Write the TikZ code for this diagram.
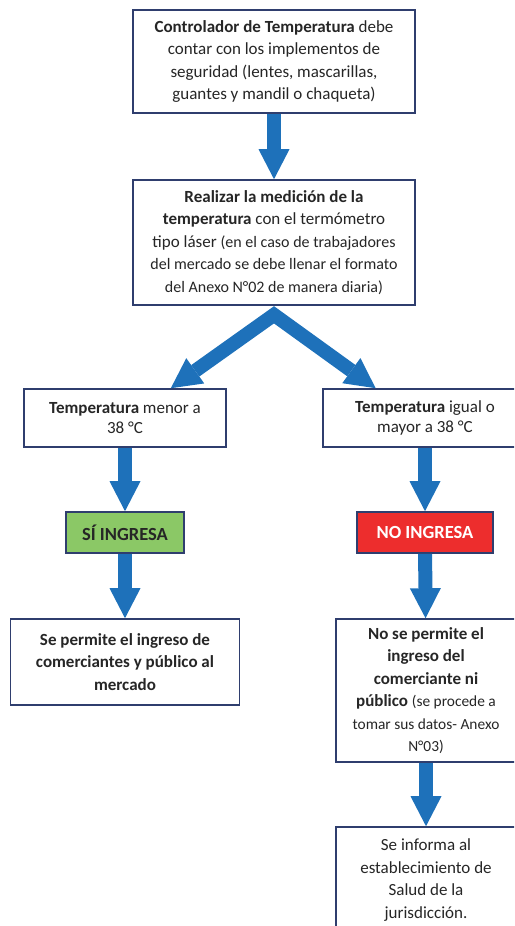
\documentclass[tikz,border=0pt]{standalone}
\usepackage{fontspec}
\setmainfont{Carlito}
\usetikzlibrary{calc}
\usetikzlibrary{arrows.meta}
\definecolor{bordeazul}{RGB}{47,62,110}
\definecolor{flechaazul}{RGB}{30,113,186}
\definecolor{verdesi}{RGB}{139,200,102}
\definecolor{rojono}{RGB}{237,45,45}
\definecolor{texto}{RGB}{38,38,38}
\newcommand{\chico}{\fontsize{16}{22.5}\selectfont}
\newcommand{\menudo}{\fontsize{15.4}{19}\selectfont}
\tikzset{
	align=center,
	caja/.style={
		draw=bordeazul,
		line width=1.6pt,
		fill=white,
		text=texto,
		inner sep=0pt,
		font=\fontsize{17}{22.5}\selectfont,
	},
	rango/.style={
		caja,
		font=\fontsize{17}{20.5}\selectfont,
	},
	siingresa/.style={
		caja,
		fill=verdesi,
		font=\fontsize{18.5}{22}\selectfont\bfseries,
	},
	noingresa/.style={
		caja,
		fill=rojono,
		text=white,
		font=\fontsize{18.5}{22}\selectfont\bfseries,
	},
	flecha/.style={
		draw=flechaazul,
		line width=14pt,
		-{Triangle[length=30pt 0,width=31pt 0,line width=0pt 0]}
	},
	bifurca/.style={
		draw=flechaazul,
		line width=14pt,
		line join=miter,
		{Triangle[length=30pt 0,width=31pt 0,line width=0pt 0]}-{Triangle[length=30pt 0,width=31pt 0,line width=0pt 0]}
	},
}

\begin{document}
\begin{tikzpicture}[x=1pt,y=-1pt]
		\useasboundingbox (0,0) rectangle (514,926);
		\clip (0,0) rectangle (514,926);

		\node[caja, minimum width=282pt, minimum height=103pt] (ctrl) at (274,61.5) {\textbf{Controlador de Temperatura} debe\\ contar con los implementos de\\ seguridad (lentes, mascarillas,\\ guantes y mandil o chaqueta)};
		\node[caja, minimum width=282pt, minimum height=125pt] (medir) at (274,242.5) {\textbf{Realizar la medición de la}\\ \textbf{temperatura} con el termómetro\\ tipo láser \chico(en el caso de trabajadores\\ \chico del mercado se debe llenar el formato\\ \chico del Anexo N°02 de manera diaria)};

		% rama izquierda
		\node[rango, minimum width=202pt, minimum height=58pt] (menor) at (125,418) {\textbf{Temperatura} menor a\\ 38 °C};
		\node[siingresa, minimum width=118pt, minimum height=41pt] (si) at (125,532.5) {SÍ INGRESA};
		\node[caja, minimum width=229pt, minimum height=86pt] (permite) at (125,662) {\textbf{Se permite el ingreso de}\\ \textbf{comerciantes y público al}\\ \textbf{mercado}};

		% rama derecha
		\node[rango, minimum width=204pt, minimum height=58pt] (mayor) at (425,418) {\textbf{Temperatura} igual o\\ mayor a 38 °C};
		\node[noingresa, minimum width=136pt, minimum height=41pt] (no) at (425,532.5) {NO INGRESA};
		\node[caja, minimum width=180pt, minimum height=143pt] (nopermite) at (426,690.5) {\textbf{No se permite el}\\ \textbf{ingreso del}\\ \textbf{comerciante ni}\\ \textbf{público} \menudo(se procede a\\ \menudo tomar sus datos- Anexo\\ \menudo N°03)};
		\node[caja, minimum width=180pt, minimum height=106pt] (salud) at (426,880) {Se informa al\\ establecimiento de\\ Salud de la\\ jurisdicción.};

		\coordinate (fork) at ($(medir.south)+(0,9)$);

		\draw[flecha] (ctrl) -- (medir);
		\draw[bifurca] ($(menor.north)!0.45!(menor.north east)$) -- (fork) -- ($(mayor.north)!0.48!(mayor.north west)$);
		\draw[flecha] (menor) -- (si);
		\draw[flecha] (si) -- (permite);
		\draw[flecha] (mayor) -- (no);
		\draw[flecha] (no) -- (nopermite);
		\draw[flecha] (nopermite) -- (salud);

	\end{tikzpicture}
\end{document}
